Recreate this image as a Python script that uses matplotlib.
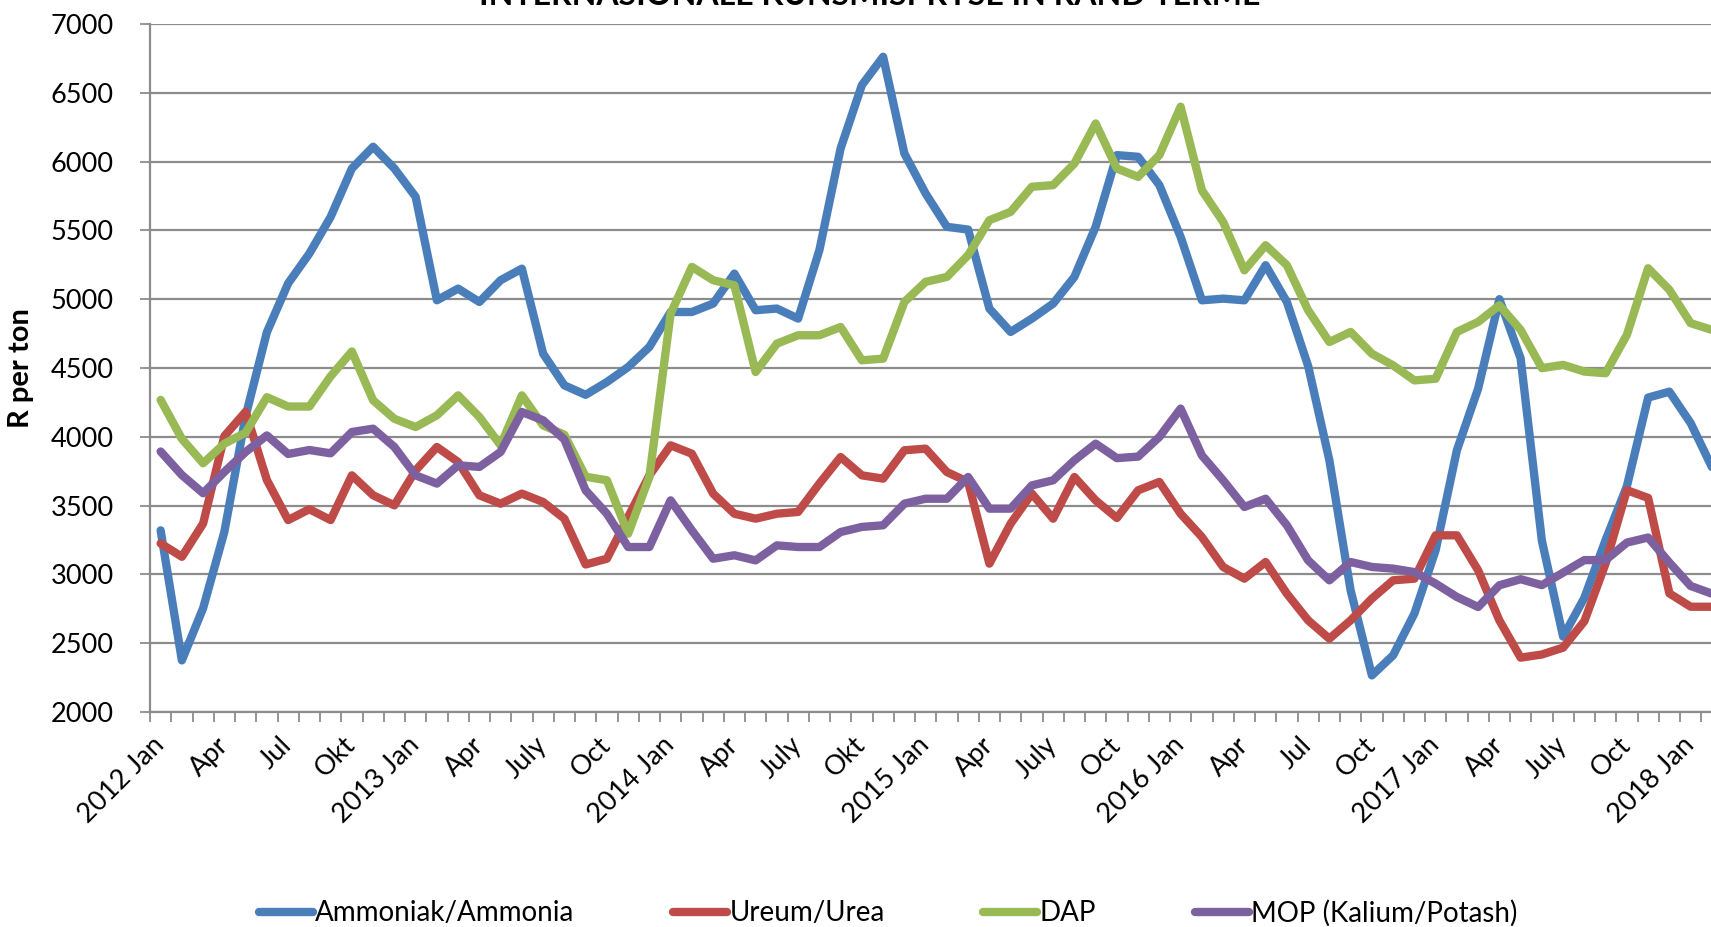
import numpy as np
import matplotlib
matplotlib.use("Agg")
import matplotlib.pyplot as plt
from matplotlib.ticker import FixedLocator

plt.rcParams['font.family'] = ['Lato', 'DejaVu Sans']

# maandelikse pryse, 2012 Jan .. 2018 Feb (R per ton)
ammonia = [3320, 2375, 2755, 3310, 4150, 4760, 5115, 5332, 5598, 5950, 6108, 5950,
           5744, 4992, 5077, 4980, 5138, 5222, 4604, 4374, 4305, 4398, 4507, 4653,
           4907, 4907, 4968, 5186, 4920, 4932, 4859, 5356, 6096, 6556, 6762, 6059,
           5768, 5526, 5506, 4932, 4762, 4859, 4968, 5162, 5526, 6047, 6035, 5829,
           5453, 4992, 5004, 4992, 5247, 4980, 4515, 3829, 2884, 2266, 2412, 2715,
           3175, 3902, 4350, 5000, 4570, 3245, 2548, 2830, 3250, 3640, 4285, 4328,
           4100, 3780]
urea = [3225, 3128, 3370, 4005, 4182, 3686, 3395, 3474, 3395, 3720, 3575, 3502,
        3756, 3926, 3817, 3575, 3514, 3587, 3526, 3405, 3072, 3114, 3417, 3720,
        3938, 3877, 3587, 3441, 3405, 3441, 3454, 3660, 3853, 3720, 3696, 3902,
        3914, 3744, 3672, 3078, 3369, 3587, 3405, 3708, 3538, 3410, 3611, 3672,
        3441, 3272, 3054, 2969, 3090, 2860, 2666, 2533, 2666, 2824, 2957, 2969,
        3284, 3284, 3030, 2666, 2395, 2418, 2468, 2660, 3080, 3612, 3556, 2862,
        2765, 2765]
dap = [4268, 3985, 3808, 3950, 4030, 4288, 4220, 4220, 4440, 4620, 4265, 4131,
       4071, 4156, 4301, 4144, 3938, 4301, 4083, 4015, 3710, 3684, 3296, 3708,
       4895, 5235, 5138, 5101, 4471, 4677, 4738, 4738, 4798, 4556, 4568, 4980,
       5126, 5162, 5320, 5574, 5635, 5817, 5829, 5986, 6277, 5950, 5889, 6047,
       6399, 5792, 5562, 5210, 5392, 5247, 4920, 4689, 4762, 4604, 4519, 4410,
       4422, 4762, 4835, 4956, 4777, 4499, 4523, 4474, 4462, 4741, 5225, 5068,
       4826, 4777]
mop = [3893, 3722, 3590, 3745, 3890, 4010, 3875, 3904, 3880, 4035, 4059, 3926,
       3720, 3660, 3793, 3781, 3890, 4180, 4120, 3980, 3611, 3441, 3199, 3199,
       3538, 3320, 3114, 3139, 3102, 3211, 3199, 3199, 3308, 3345, 3357, 3514,
       3550, 3550, 3708, 3478, 3478, 3647, 3684, 3829, 3950, 3845, 3856, 3999,
       4205, 3865, 3684, 3490, 3550, 3357, 3102, 2957, 3090, 3054, 3042, 3017,
       2933, 2836, 2763, 2921, 2965, 2922, 3013, 3104, 3104, 3231, 3268, 3086,
       2916, 2860]

tick_labels = ['2012 Jan', 'Apr', 'Jul', 'Okt', '2013 Jan', 'Apr', 'July', 'Oct',
               '2014 Jan', 'Apr', 'July', 'Okt', '2015 Jan', 'Apr', 'July', 'Oct',
               '2016 Jan', 'Apr', 'Jul', 'Oct', '2017 Jan', 'Apr', 'July', 'Oct',
               '2018 Jan']

series = [(ammonia, '#4A7EBB', 'Ammoniak/Ammonia'),
          (urea, '#BE4B48', 'Ureum/Urea'),
          (dap, '#98B954', 'DAP'),
          (mop, '#7D60A0', 'MOP (Kalium/Potash)')]

W, H = 1711, 927
fig = plt.figure(figsize=(W / 100, H / 100), dpi=100)
n_cat = 75
ax = fig.add_axes([150 / W, 1 - 712 / H, 21.25 * n_cat / W, (712 - 24) / H])

x = np.arange(len(ammonia))
for vals, col, lab in series:
    ax.plot(x, vals, color=col, lw=6.0, label=lab,
            solid_joinstyle='round', solid_capstyle='round')

grey = '#8c8c8c'
ax.set_xlim(-0.5, n_cat - 0.5)
ax.set_ylim(2000, 7000)
ax.set_yticks(range(2000, 7001, 500))
ax.yaxis.grid(True, color=grey, lw=1.6)
ax.set_axisbelow(True)

for s in ['top', 'right']:
    ax.spines[s].set_visible(False)
for s in ['left', 'bottom']:
    ax.spines[s].set_color(grey)
    ax.spines[s].set_linewidth(1.6)

ax.set_xticks(np.arange(0, 73, 3))
ax.set_xticklabels(tick_labels, rotation=45, ha='right', va='center',
                   rotation_mode='anchor')
ax.xaxis.set_minor_locator(FixedLocator(np.arange(-0.5, n_cat, 1)))
ax.tick_params(axis='x', which='major', length=0, pad=21, labelsize=19.5)
ax.tick_params(axis='x', which='minor', length=7.2, width=1.3, color=grey)
ax.tick_params(axis='y', length=7.2, width=1.3, color=grey, pad=19, labelsize=19.5)

ax.set_ylabel('R per ton', fontsize=21, fontweight='bold', labelpad=12)

fig.text(870 / W, 1 - 5 / H, 'INTERNASIONALE KUNSMISPRYSE IN RAND TERME',
         ha='center', va='baseline', fontsize=23, fontweight='bold')

fig.legend(ncol=4, loc='center', bbox_to_anchor=(888 / W, 1 - 913 / H),
           frameon=False, fontsize=20, handlelength=1.95, handletextpad=0.08,
           columnspacing=3.55)

fig.savefig('out.png', dpi=100)
